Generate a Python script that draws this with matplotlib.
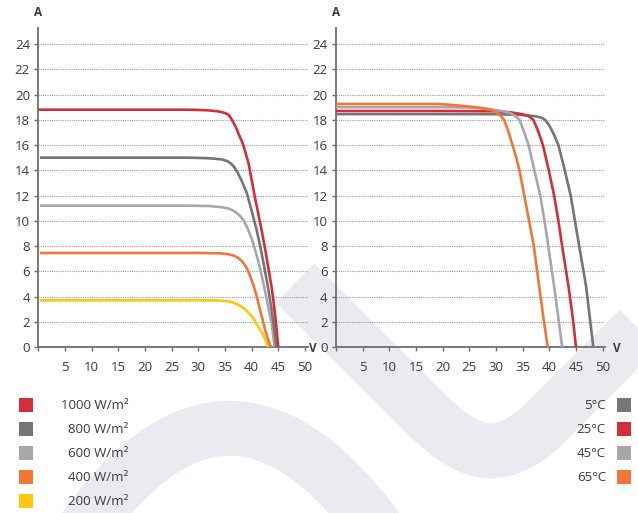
import matplotlib
matplotlib.use('Agg')
import matplotlib.pyplot as plt
from matplotlib.path import Path
from matplotlib.patches import PathPatch, Rectangle

plt.rcParams['font.family'] = ['Open Sans', 'DejaVu Sans']

# ---------------- data ----------------
irr_labels = ['1000 W/m²', '800 W/m²', '600 W/m²', '400 W/m²', '200 W/m²']
irr_colors = ['#d62e38', '#737579', '#a8a8aa', '#f47636', '#fec811']

v_1000 = [0, 10, 20, 28, 30, 32, 33.5, 34.5, 35.2, 35.7, 36.1, 36.5, 37.0, 37.6, 38.4, 39.4,
          40.0, 40.6, 41.25, 41.9, 42.6, 43.2, 43.8, 44.4, 45.0]
i_1000 = [18.8, 18.8, 18.8, 18.8, 18.78, 18.74, 18.68, 18.6, 18.5, 18.38, 18.15, 17.85, 17.45,
          16.85, 16.05, 14.6, 13.25, 11.9, 10.55, 9.2, 7.6, 6.1, 4.6, 2.6, 0]

v_800 = [0.3, 10, 20, 28, 31, 33, 34.5, 35.5, 36.2, 36.8, 37.4, 38.1, 39.1, 40.0, 40.9, 41.6,
         42.3, 43.0, 43.7, 44.2, 44.6]
i_800 = [15.0, 15.0, 15.0, 15.0, 14.97, 14.92, 14.85, 14.72, 14.5, 14.22, 13.8, 13.2, 12.2, 10.8,
         9.35, 8.0, 6.5, 4.9, 3.1, 1.6, 0]

v_600 = [0.3, 10, 20, 28, 32, 34.5, 35.8, 36.8, 37.6, 38.4, 39.2, 40.0, 40.6, 41.25, 41.9,
         42.5, 43.1, 43.75, 44.3]
i_600 = [11.2, 11.2, 11.2, 11.2, 11.17, 11.07, 10.95, 10.75, 10.48, 10.1, 9.45, 8.6, 7.75, 6.8,
         5.65, 4.45, 3.2, 1.9, 0]

v_400 = [0.3, 10, 20, 30, 34, 35.5, 36.6, 37.5, 38.3, 39.1, 39.7, 40.3, 41.0, 41.6, 42.1,
         42.5, 43.05, 43.6]
i_400 = [7.45, 7.45, 7.45, 7.45, 7.42, 7.36, 7.25, 7.05, 6.75, 6.25, 5.65, 4.95, 3.95, 2.9,
         2.1, 1.4, 0.65, 0]

v_200 = [0.3, 10, 20, 30, 34, 35.5, 36.7, 37.8, 38.8, 39.7, 40.5, 41.25, 41.9, 42.5, 43.1]
i_200 = [3.7, 3.7, 3.7, 3.7, 3.68, 3.62, 3.5, 3.27, 2.98, 2.6, 2.15, 1.6, 1.15, 0.7, 0]

temp_labels = ['5°C', '25°C', '45°C', '65°C']
temp_colors = ['#737579', '#d62e38', '#a8a8aa', '#f47636']

v_5 = [0, 10, 20, 30, 35, 37.6, 38.6, 39.2, 40.0, 40.9, 41.7, 42.9, 44.0, 44.8, 45.6, 46.9,
       47.6, 48.25]
i_5 = [18.45, 18.45, 18.45, 18.44, 18.38, 18.27, 18.15, 18.0, 17.55, 16.8, 16.0, 14.0, 12.0,
       10.0, 8.0, 4.8, 2.3, 0]

v_25 = [0, 10, 20, 30, 32.6, 34.8, 36.1, 37.0, 37.9, 38.8, 39.9, 40.9, 41.7, 42.4, 43.6,
        44.4, 45.0]
i_25 = [18.7, 18.7, 18.7, 18.67, 18.6, 18.45, 18.3, 18.0, 17.1, 16.0, 14.0, 12.0, 10.0, 8.0,
        4.8, 2.3, 0]

v_45 = [0, 10, 20, 25, 28.5, 31, 32.6, 33.6, 34.4, 35.3, 36.1, 37.2, 38.3, 39.1, 39.8, 40.9,
        41.7, 42.4]
i_45 = [19.0, 19.0, 19.0, 18.97, 18.85, 18.7, 18.55, 18.3, 18.0, 17.0, 16.0, 14.0, 12.0, 10.0,
        8.0, 4.8, 2.3, 0]

v_65 = [0, 10, 18.9, 21, 23.25, 25.5, 27.6, 29.0, 30.0, 30.8, 31.5, 32.3, 33.1, 33.8, 34.4,
        35.3, 36.2, 37.1, 38.1, 38.9, 39.7]
i_65 = [19.25, 19.25, 19.25, 19.2, 19.12, 19.03, 18.92, 18.8, 18.62, 18.35, 18.0, 17.1, 16.0,
        15.0, 14.0, 12.0, 10.0, 8.0, 4.8, 2.3, 0]

x_ticks = list(range(0, 51, 5))
x_ticklabels = [''] + [str(t) for t in x_ticks[1:]]
y_ticks = list(range(0, 25, 2))

irr_series = [(v_1000, i_1000), (v_800, i_800), (v_600, i_600), (v_400, i_400), (v_200, i_200)]
temp_series = [(v_5, i_5), (v_25, i_25), (v_45, i_45), (v_65, i_65)]

# ---------------- figure ----------------
W, H = 638, 513
fig = plt.figure(figsize=(W / 100, H / 100), dpi=100)

TEXT = '#3a3a3a'
SPINE = '#6d6e71'
WM = '#e9ebf0'

bg = fig.add_axes([0, 0, 1, 1], zorder=0)
bg.set_xlim(0, W)
bg.set_ylim(H, 0)
bg.axis('off')

# watermark ribbons (decoration)
lw_wm = 55 * 0.72
p1 = Path([(295, 283), (425, 413), (463, 451), (490, 451), (517, 451), (545, 423), (690, 278)],
          [Path.MOVETO, Path.LINETO, Path.CURVE3, Path.CURVE3, Path.CURVE3, Path.CURVE3, Path.LINETO])
bg.add_patch(PathPatch(p1, fill=False, edgecolor=WM, lw=lw_wm, capstyle='butt', joinstyle='round', zorder=0))
p2 = Path([(80, 535), (230, 319), (385, 540)], [Path.MOVETO, Path.CURVE3, Path.CURVE3])
bg.add_patch(PathPatch(p2, fill=False, edgecolor=WM, lw=lw_wm, capstyle='butt', zorder=0))

XMAX = 50.5
YMAX = 25.27
ax_w = 5.333 * XMAX / W
ax_b = (H - 347) / H
ax_h = (347 - 28) / H


def style(ax):
    ax.set_facecolor('none')
    ax.set_xlim(0, XMAX)
    ax.set_ylim(0, YMAX)
    for s in ('top', 'right'):
        ax.spines[s].set_visible(False)
    for s in ('left', 'bottom'):
        ax.spines[s].set_color(SPINE)
        ax.spines[s].set_linewidth(1.3)
    ax.set_xticks(x_ticks)
    ax.set_xticklabels(x_ticklabels)
    ax.set_yticks(y_ticks)
    ax.tick_params(axis='x', direction='out', length=3, width=1, color=SPINE,
                   pad=7, labelsize=9.5, labelcolor=TEXT)
    ax.tick_params(axis='y', direction='out', length=3, width=1, color=SPINE,
                   pad=3, labelsize=9.5, labelcolor=TEXT)
    ax.yaxis.grid(True, linestyle=(0, (1, 1)), color='#9c9c9c', linewidth=0.8)
    ax.set_axisbelow(True)


ax1 = fig.add_axes([38.3 / W, ax_b, ax_w, ax_h], zorder=1)
style(ax1)
for (v, i), c in reversed(list(zip(irr_series, irr_colors))):
    ax1.plot(v, i, color=c, lw=1.9, solid_capstyle='butt', solid_joinstyle='round',
             clip_on=False, zorder=3)

ax2 = fig.add_axes([336 / W, ax_b, ax_w, ax_h], zorder=1)
style(ax2)
for (v, i), c in zip(temp_series, temp_colors):
    ax2.plot(v, i, color=c, lw=1.9, solid_capstyle='butt', solid_joinstyle='round',
             clip_on=False, zorder=3)

# axis letters
for x in (38.5, 336.5):
    bg.text(x, 12, 'A', ha='center', va='center', fontsize=8.5, fontweight='bold', color=TEXT)
for x in (313, 617):
    bg.text(x, 349, 'V', ha='center', va='center', fontsize=8.5, fontweight='bold', color=TEXT)

# legends
for k, (lab, c) in enumerate(zip(irr_labels, irr_colors)):
    yc = 405.3 + 24 * k
    bg.add_patch(Rectangle((19, yc - 7), 14, 14, facecolor=c, edgecolor='none', zorder=2))
    bg.text(128.5, yc, lab, ha='right', va='center', fontsize=9.5, color=TEXT, zorder=3)

for k, (lab, c) in enumerate(zip(temp_labels, temp_colors)):
    yc = 405.3 + 24 * k
    bg.add_patch(Rectangle((617, yc - 7), 14, 14, facecolor=c, edgecolor='none', zorder=2))
    bg.text(606, yc, lab, ha='right', va='center', fontsize=9.5, color=TEXT, zorder=3)

fig.savefig('out.png', dpi=100)
